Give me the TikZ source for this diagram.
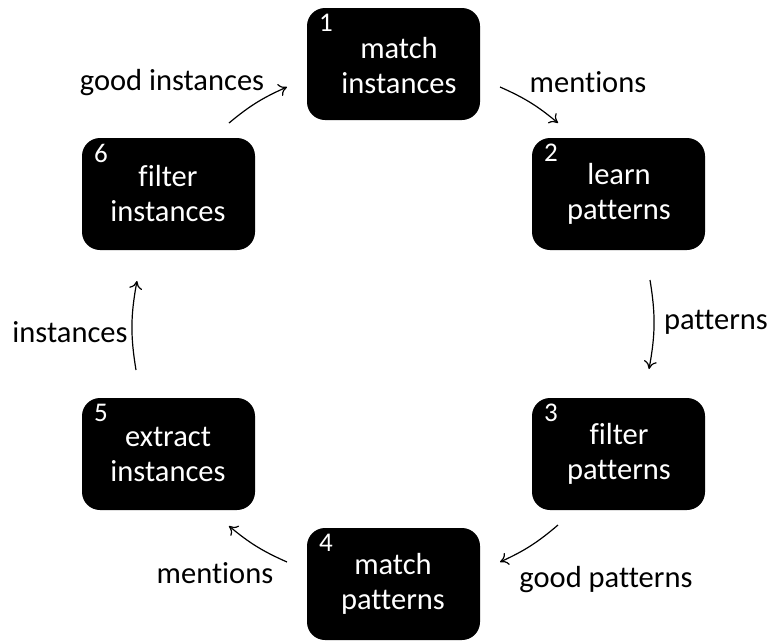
\documentclass[tikz,border=0pt]{standalone}
\usepackage{fontspec}
\setmainfont[Ligatures=NoCommon]{Carlito}
\usetikzlibrary{arrows.meta}
\begin{document}
\begin{tikzpicture}[x=1pt,y=-1pt,
  stage/.style={fill=black, rounded corners=18pt, minimum width=173pt, minimum height=112pt,
    inner sep=0pt},
  stagetext/.style={align=center, text=white, font=\fontsize{30.5}{35}\selectfont},
  num/.style={text=white, font=\fontsize{27}{30}\selectfont, inner sep=0pt},
  lbl/.style={font=\fontsize{30.5}{34}\selectfont, inner sep=0pt},
  flow/.style={-{To[length=8pt,width=13pt]}, line width=1.2pt}]
\useasboundingbox (0,0) rectangle (772,641);
% stages
\node[stage] (s1) at (393.5,64) {};
\node[stage] (s2) at (618.5,194) {};
\node[stage] (s3) at (618.5,454) {};
\node[stage] (s4) at (393.5,584) {};
\node[stage] (s5) at (168.5,454) {};
\node[stage] (s6) at (168.5,194) {};
% stage texts
\node[stagetext] (t1) at (399,66) {match\\instances};
\node[stagetext] (t2) at (619,194) {learn\\patterns};
\node[stagetext] (t3) at (619,454) {filter\\patterns};
\node[stagetext] (t4) at (393,584) {match\\patterns};
\node[stagetext] (t5) at (168,454) {extract\\instances};
\node[stagetext] (t6) at (168,194) {filter\\instances};
% step numbers
\node[num] (n1) at (326,23) {1};
\node[num] (n2) at (551,153) {2};
\node[num] (n3) at (551,413) {3};
\node[num] (n4) at (326,543) {4};
\node[num] (n5) at (101,413) {5};
\node[num] (n6) at (101,153) {6};
% connector end points
\coordinate (a1) at (500,87);  \coordinate (b1) at (558,123);
\coordinate (a2) at (650,280); \coordinate (b2) at (649,369);
\coordinate (a3) at (558,525); \coordinate (b3) at (500,562);
\coordinate (a4) at (287,562); \coordinate (b4) at (229,526);
\coordinate (a5) at (136,370); \coordinate (b5) at (137,281);
\coordinate (a6) at (229,123); \coordinate (b6) at (287,87);
% connectors
\draw[flow] (a1) to[bend left=8] (b1);
\draw[flow] (a2) to[bend left=10] (b2);
\draw[flow] (a3) to[bend left=8] (b3);
\draw[flow] (a4) to[bend left=8] (b4);
\draw[flow] (a5) to[bend left=10] (b5);
\draw[flow] (a6) to[bend left=8] (b6);
% connector labels
\node[lbl] (l1) at (588,82) {mentions};
\node[lbl] (l2) at (716,322) {patterns};
\node[lbl] (l3) at (606,580) {good patterns};
\node[lbl] (l4) at (215,573) {mentions};
\node[lbl] (l5) at (70,332) {instances};
\node[lbl] (l6) at (172,83) {good instances};
\end{tikzpicture}
\end{document}
